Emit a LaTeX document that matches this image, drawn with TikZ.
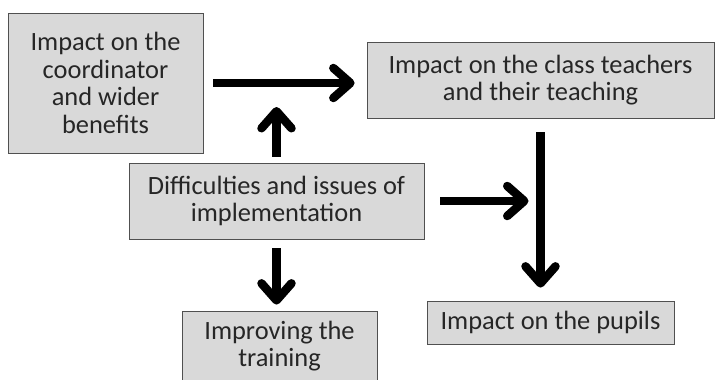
\documentclass[tikz,border=0pt]{standalone}
\usepackage{fontspec}
\setmainfont{Carlito}
\usepackage{tikz}
\usetikzlibrary{arrows.meta,calc}
\definecolor{boxfill}{HTML}{D9D9D9}
\definecolor{boxline}{HTML}{505050}

\begin{document}
\begin{tikzpicture}[x=1pt,y=-1pt,
      box/.style={
        rectangle,
        draw=boxline,
        fill=boxfill,
        line width=0.8pt,
        align=center,
        inner sep=0pt,
        font=\fontsize{26.4}{27.5}\selectfont,
        text=black!85
      },
      flow/.style={
        line width=8.5pt,
        -{Straight Barb[length=17pt,width=30pt,round]}
      }
    ]
    \useasboundingbox (0,0) rectangle (715,380);
    \node[box,minimum width=195pt,minimum height=140pt] at (105.5,83) (coord) {Impact on the\\coordinator\\and wider\\benefits};
    \node[box,minimum width=347pt,minimum height=76pt] at (540.5,80) (teach) {Impact on the class teachers\\and their teaching};
    \node[box,minimum width=295pt,minimum height=76pt] at (276.5,201) (diff) {Difficulties and issues of\\implementation};
    \node[box,minimum width=195pt,minimum height=70pt] at (279.5,346) (train) {Improving the\\training};
    \node[box,minimum width=247pt,minimum height=43pt] at (550.5,322.5) (pupils) {Impact on the pupils};
    \draw[flow,shorten <=10pt,shorten >=12pt] (coord.east) -- (coord.east -| teach.west);
    \draw[flow,shorten <=6pt,shorten >=24pt] (diff.north) -- (diff.north |- coord.east);
    \draw[flow,shorten <=14pt,shorten >=13pt] (teach.south) -- (teach.south |- pupils.north);
    \draw[flow,shorten <=16pt,shorten >=12pt] (diff.east) -- (diff.east -| teach.south);
    \draw[flow,shorten <=9pt,shorten >=6pt] (diff.south) -- (diff.south |- train.north);
  \end{tikzpicture}
\end{document}
